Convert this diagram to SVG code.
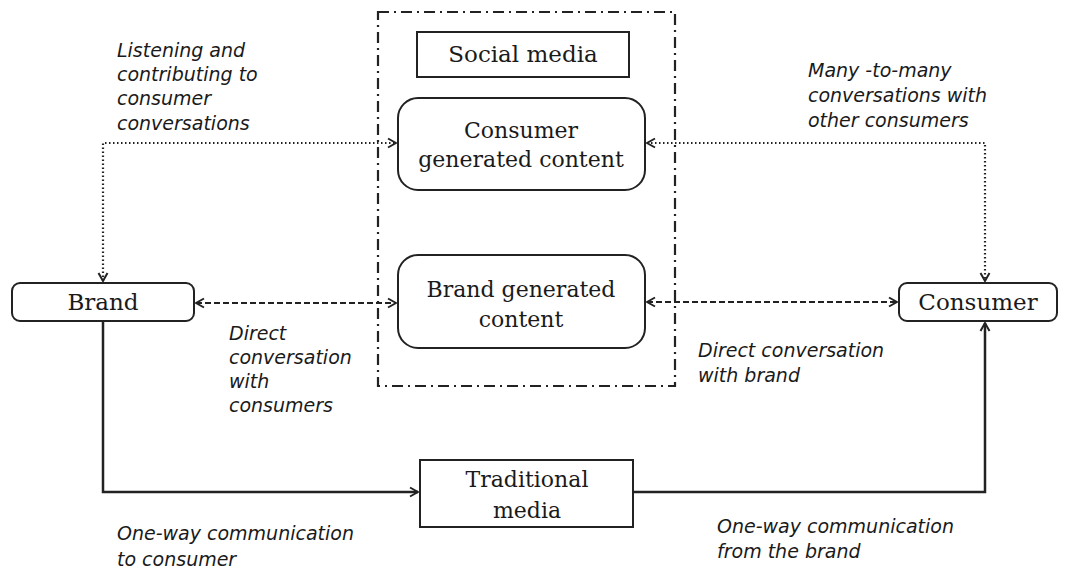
<svg xmlns="http://www.w3.org/2000/svg" width="1068" height="574" viewBox="0 0 1068 574">
<defs>
<style>
.box{fill:#fff;stroke:#222;stroke-width:2}
.nt{font-family:"DejaVu Serif","Liberation Serif",serif;font-size:22px;fill:#1a1a1a;text-anchor:middle}
.lb{font-family:"DejaVu Sans","Liberation Sans",sans-serif;font-style:italic;font-size:19px;fill:#1a1a1a}
.dot{fill:none;stroke:#222;stroke-width:2.2;stroke-dasharray:1.5 2.5}
.dash{fill:none;stroke:#222;stroke-width:2.2;stroke-dasharray:6 3}
.solid{fill:none;stroke:#222;stroke-width:2.5}
.frame{fill:none;stroke:#222;stroke-width:2.2;stroke-dasharray:11 5 2 5}
</style>
<marker id="ah" viewBox="0 0 12 12" refX="11" refY="6" markerWidth="12" markerHeight="12" markerUnits="userSpaceOnUse" orient="auto-start-reverse">
<path d="M3,1.5 L11,6 L3,10.5" fill="none" stroke="#222" stroke-width="2"/>
</marker>
</defs>
<rect width="1068" height="574" fill="#fff"/>
<g id="connectors">
<rect class="frame" x="378" y="12" width="297" height="374"/>
<path class="dot" d="M103,281 V143 H396" marker-start="url(#ah)" marker-end="url(#ah)"/>
<path class="dot" d="M647,143 H985 V281" marker-start="url(#ah)" marker-end="url(#ah)"/>
<path class="dash" d="M196,303 H396" marker-start="url(#ah)" marker-end="url(#ah)"/>
<path class="dash" d="M647,302 H897" marker-start="url(#ah)" marker-end="url(#ah)"/>
<path class="solid" d="M103,321 V492 H418" marker-end="url(#ah)"/>
<path class="solid" d="M633,492 H985 V323" marker-end="url(#ah)"/>
</g>
<g id="social-media">
<rect class="box" x="417" y="32" width="212" height="45"/>
<text class="nt" x="523" y="62" style="font-size:23px">Social media</text>
</g>
<g id="consumer-generated">
<rect class="box" x="398" y="98" width="247" height="92" rx="20"/>
<text class="nt" x="521" y="138">Consumer</text>
<text class="nt" x="521" y="167">generated content</text>
</g>
<g id="brand-generated">
<rect class="box" x="398" y="255" width="247" height="93" rx="20"/>
<text class="nt" x="521" y="297">Brand generated</text>
<text class="nt" x="521" y="327">content</text>
</g>
<g id="brand">
<rect class="box" x="12" y="283" width="182" height="38" rx="8"/>
<text class="nt" x="103" y="310" style="font-size:23px">Brand</text>
</g>
<g id="consumer">
<rect class="box" x="899" y="283" width="158" height="38" rx="8"/>
<text class="nt" x="978" y="310" style="font-size:23px">Consumer</text>
</g>
<g id="traditional-media">
<rect class="box" x="420" y="460" width="213" height="67"/>
<text class="nt" x="527" y="487">Traditional</text>
<text class="nt" x="527" y="518">media</text>
</g>
<g id="labels">
<text class="lb" x="117" y="57">Listening and</text>
<text class="lb" x="117" y="81">contributing to</text>
<text class="lb" x="117" y="105">consumer</text>
<text class="lb" x="117" y="130">conversations</text>
<text class="lb" x="808" y="77">Many -to-many</text>
<text class="lb" x="808" y="102">conversations with</text>
<text class="lb" x="808" y="127">other consumers</text>
<text class="lb" x="229" y="340">Direct</text>
<text class="lb" x="229" y="364">conversation</text>
<text class="lb" x="229" y="388">with</text>
<text class="lb" x="229" y="412">consumers</text>
<text class="lb" x="698" y="357">Direct conversation</text>
<text class="lb" x="698" y="382">with brand</text>
<text class="lb" x="117" y="540">One-way communication</text>
<text class="lb" x="117" y="566">to consumer</text>
<text class="lb" x="717" y="533">One-way communication</text>
<text class="lb" x="717" y="558">from the brand</text>
</g>
</svg>
